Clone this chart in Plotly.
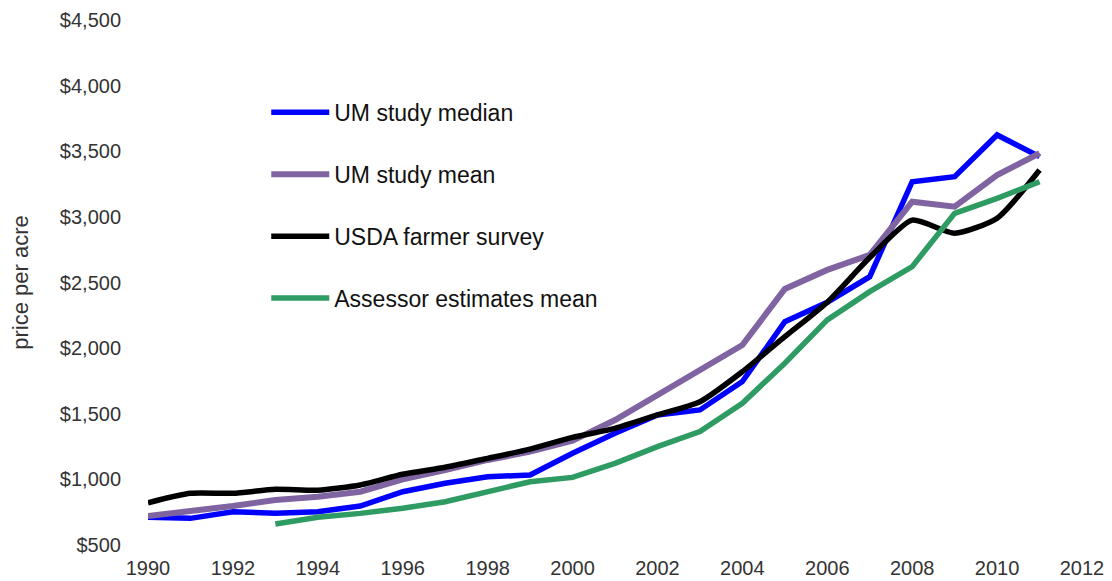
import plotly.graph_objects as go

years = list(range(1990, 2012))
um_median = [711, 703, 754, 741, 754, 797, 906, 970, 1020, 1033, 1199, 1351, 1491, 1529, 1745, 2201, 2350, 2544, 3268, 3306, 3624, 3459]
um_mean = [721, 754, 797, 843, 868, 906, 1000, 1071, 1148, 1211, 1295, 1452, 1643, 1821, 2024, 2451, 2596, 2710, 3116, 3078, 3319, 3485]
usda = [822, 894, 894, 924, 917, 957, 1039, 1092, 1160, 1231, 1320, 1389, 1491, 1592, 1821, 2087, 2350, 2690, 2975, 2875, 2990, 3357]
assessor_years = list(range(1993, 2012))
assessor = [660, 711, 741, 780, 830, 906, 982, 1015, 1122, 1249, 1364, 1580, 1885, 2215, 2430, 2621, 3027, 3141, 3268]

y_ticks = list(range(500, 5000, 500))
x_ticks = list(range(1990, 2014, 2))

fig = go.Figure()
fig.add_trace(go.Scatter(x=years, y=um_median, mode="lines", name="UM study median",
                         line=dict(color="#0000FF", width=5.5), legendgroup="a"))
fig.add_trace(go.Scatter(x=years, y=um_mean, mode="lines", name="UM study mean",
                         line=dict(color="#8064A2", width=6), legendgroup="b"))
fig.add_trace(go.Scatter(x=years, y=usda, mode="lines", name="USDA farmer survey",
                         line=dict(color="#000000", width=5.5, shape="spline", smoothing=0.6), legendgroup="c"))
fig.add_trace(go.Scatter(x=assessor_years, y=assessor, mode="lines", name="Assessor estimates mean",
                         line=dict(color="#2E9B62", width=5.5), legendgroup="d"))

fig.update_layout(
    width=1112, height=581,
    margin=dict(l=140, r=38, t=12, b=44),
    plot_bgcolor="white", paper_bgcolor="white",
    font=dict(family="Liberation Sans, Arial, sans-serif", size=20, color="#333333"),
    showlegend=True,
    legend=dict(x=0.1266, y=0.865, xanchor="left", yanchor="top",
                bgcolor="rgba(0,0,0,0)", itemwidth=58, tracegroupgap=29,
                font=dict(size=23, color="#111111")),
    xaxis=dict(range=[1990, 2012], tickvals=x_ticks, showgrid=False, zeroline=False,
               showline=False, ticks="", automargin=False, ticklabelstandoff=9,
               tickfont=dict(size=20, color="#333333")),
    yaxis=dict(range=[500, 4500], tickvals=y_ticks, tickformat="$,", showgrid=False,
               zeroline=False, showline=False, ticks="", ticklabelstandoff=26, automargin=False,
               tickfont=dict(size=20, color="#333333"),
               title=dict(text="price per acre", font=dict(size=22, color="#333333"), standoff=28)),
)

fig.write_html("out.html")
